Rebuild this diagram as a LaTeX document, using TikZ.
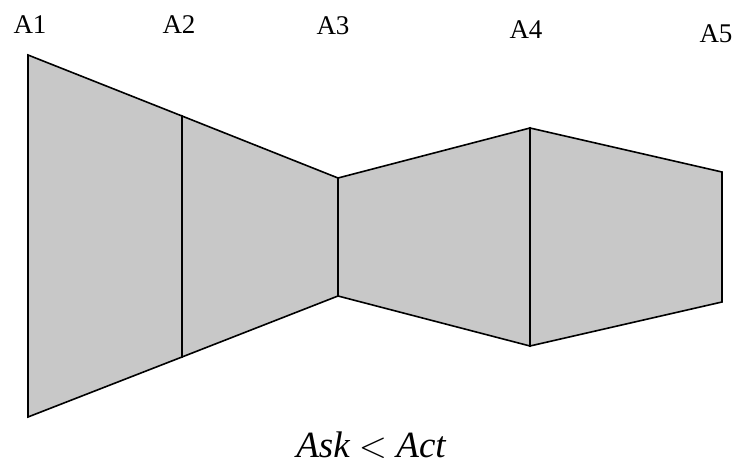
\RequirePackage{fix-cm}
\documentclass[tikz,border=0pt]{standalone}
\usepackage{fontspec}
\setmainfont{Liberation Serif}
\begin{document}
\begin{tikzpicture}[x=1pt,y=-1pt,
  seg/.style={fill=shade,draw=black,line width=1.6pt,line join=miter},
  lab/.style={font=\fontsize{27}{30}\selectfont,inner sep=0pt},
  captext/.style={font=\fontsize{37}{40}\selectfont\itshape,inner sep=0pt}]
\definecolor{shade}{RGB}{200,200,200}
\useasboundingbox (0,0) rectangle (740,468);
\coordinate (t1) at (28,55);  \coordinate (b1) at (28,417);
\coordinate (t2) at (182,116); \coordinate (b2) at (182,357);
\coordinate (t3) at (338,178); \coordinate (b3) at (338,296);
\coordinate (t4) at (530,128); \coordinate (b4) at (530,346);
\coordinate (t5) at (722,172); \coordinate (b5) at (722,302);
\draw[seg] (t1) -- (t2) -- (b2) -- (b1) -- cycle;
\draw[seg] (t2) -- (t3) -- (b3) -- (b2) -- cycle;
\draw[seg] (t3) -- (t4) -- (b4) -- (b3) -- cycle;
\draw[seg] (t4) -- (t5) -- (b5) -- (b4) -- cycle;
\node[lab] (l1) at (30,25) {A1};
\node[lab] (l2) at (179,25) {A2};
\node[lab] (l3) at (333,26) {A3};
\node[lab] (l4) at (526,30) {A4};
\node[lab] (l5) at (716,34) {A5};
\node[captext] (eq) at (371,445) {Ask $<$ Act};
\end{tikzpicture}
\end{document}
